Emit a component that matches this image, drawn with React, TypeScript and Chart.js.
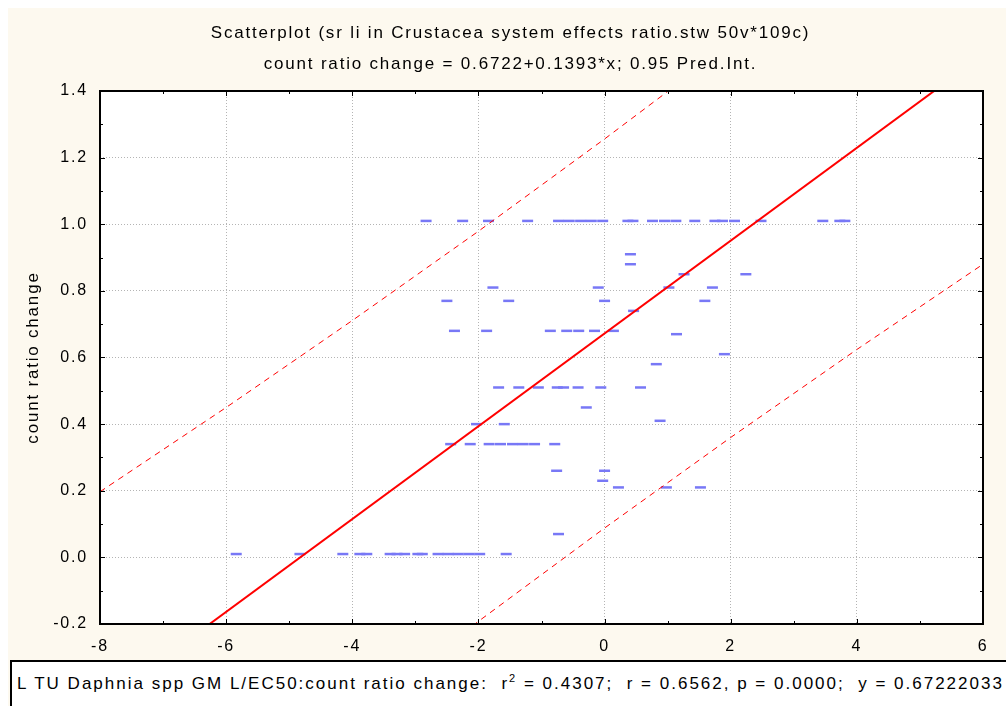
import React, { useEffect, useRef } from 'react';
import { Chart, registerables } from 'chart.js';

Chart.register(...registerables);

// ---- Text ----
const titleLines = [
  'Scatterplot (sr li in Crustacea system effects ratio.stw 50v*109c)',
  'count ratio change = 0.6722+0.1393*x; 0.95 Pred.Int.',
];
const yAxisTitle = 'count ratio change';
const legendPrefix = 'L TU Daphnia spp GM L/EC50:count ratio change:  r';
const legendSuffix = ' = 0.4307;  r = 0.6562, p = 0.0000;  y = 0.67222033 + 0.1393*x';

// ---- Axes ----
const xMin = -8;
const xMax = 6;
const xStep = 2;
const yMin = -0.2;
const yMax = 1.4;
const yStep = 0.2;

// ---- Cases (L TU Daphnia, count ratio change) ----
const caseX = [
  -2.83, -2.25, -1.84, -1.22, -0.73, -0.56, -0.38, -0.21, -0.03, 0.37, 0.45, 0.76, 0.95, 1.13, 1.43, 1.75, 1.87, 2.06, 2.48, 3.46, 3.73, 3.81,
  0.41, 0.41, 1.26, 2.24,
  -1.77, -0.1, 1.02, 1.71,
  -2.5, -1.52, 0.0, 1.59,
  0.46,
  -2.38, -1.87, -0.86, -0.6, -0.41, -0.16, 0.14,
  1.14, 1.9, 0.82,
  -1.68, -1.36, -1.05, -0.75, -0.65, -0.42, -0.06, 0.57,
  -0.29, 0.88, -2.03, -1.59,
  -2.44, -2.13, -1.83, -1.65, -1.46, -1.29, -1.11, -0.79,
  -0.76, 0.0, -0.03, 0.22, 0.98, 1.52, -0.73,
  -5.84, -4.83, -4.15, -3.88, -3.77, -3.4, -3.29, -3.17, -2.96, -2.89, -2.64, -2.48, -2.32, -2.15, -1.98, -1.56,
];
const caseY = [
  1.01, 1.01, 1.01, 1.01, 1.01, 1.01, 1.01, 1.01, 1.01, 1.01, 1.01, 1.01, 1.01, 1.01, 1.01, 1.01, 1.01, 1.01, 1.01, 1.01, 1.01, 1.01,
  0.91, 0.88, 0.85, 0.85,
  0.81, 0.81, 0.81, 0.81,
  0.77, 0.77, 0.77, 0.77,
  0.74,
  0.68, 0.68, 0.68, 0.68, 0.68, 0.68, 0.68,
  0.67, 0.61, 0.58,
  0.51, 0.51, 0.51, 0.51, 0.51, 0.51, 0.51, 0.51,
  0.45, 0.41, 0.4, 0.4,
  0.34, 0.34, 0.34, 0.34, 0.34, 0.34, 0.34, 0.34,
  0.26, 0.26, 0.23, 0.21, 0.21, 0.21, 0.07,
  0.01, 0.01, 0.01, 0.01, 0.01, 0.01, 0.01, 0.01, 0.01, 0.01, 0.01, 0.01, 0.01, 0.01, 0.01, 0.01,
];

// ---- Regression (from the title) and 0.95 prediction band ----
const fitIntercept = 0.6722;
const fitSlope = 0.1393;
const fitX = [-8, 6];
const bandX = [-8, -6, -4, -2, 0, 2, 4, 6];
const bandUpper = [0.197, 0.45, 0.711, 0.979, 1.256, 1.541, 1.835, 2.136];
const bandLower = [-1.081, -0.777, -0.481, -0.192, 0.088, 0.36, 0.624, 0.88];

const CREAM = '#fdf9ef';
const FONT = "'Liberation Sans', Arial, sans-serif";
const SPACING = '1.8px';

const framePlugin = {
  id: 'frame',
  beforeDraw(chart: any) {
    const { ctx, chartArea } = chart;
    (ctx as any).letterSpacing = SPACING;
    ctx.save();
    ctx.fillStyle = '#ffffff';
    ctx.fillRect(chartArea.left, chartArea.top, chartArea.right - chartArea.left, chartArea.bottom - chartArea.top);
    ctx.restore();
  },
  afterDraw(chart: any) {
    const { ctx, chartArea } = chart;
    const xs = chart.scales.x;
    const ys = chart.scales.y;
    const { left, right, top, bottom } = chartArea;
    ctx.save();
    ctx.strokeStyle = '#000';
    ctx.lineWidth = 1;
    ctx.beginPath();
    for (let i = 0; i <= Math.round(xMax - xMin); i++) {
      const v = xMin + i;
      const px = Math.round(xs.getPixelForValue(v)) + 0.5;
      const len = i % 2 === 0 ? 5 : 3;
      ctx.moveTo(px, bottom);
      ctx.lineTo(px, bottom - len);
      ctx.moveTo(px, top);
      ctx.lineTo(px, top + len);
    }
    for (let i = 0; i <= Math.round((yMax - yMin) * 10); i++) {
      const v = yMin + i * 0.1;
      const py = Math.round(ys.getPixelForValue(v)) + 0.5;
      const len = i % 2 === 0 ? 5 : 3;
      ctx.moveTo(left, py);
      ctx.lineTo(left + len, py);
      ctx.moveTo(right, py);
      ctx.lineTo(right - len, py);
    }
    ctx.stroke();
    ctx.lineWidth = 2;
    ctx.strokeRect(Math.round(left), Math.round(top), Math.round(right - left), Math.round(bottom - top));
    ctx.restore();
  },
};

export default function App() {
  const canvasRef = useRef<HTMLCanvasElement>(null);

  useEffect(() => {
    const canvas = canvasRef.current;
    if (!canvas) return;
    Chart.defaults.color = '#000';

    const points = caseX.map((x, i) => ({ x, y: caseY[i] }));
    const fitLine = fitX.map((x) => ({ x, y: fitIntercept + fitSlope * x }));
    const upper = bandX.map((x, i) => ({ x, y: bandUpper[i] }));
    const lower = bandX.map((x, i) => ({ x, y: bandLower[i] }));

    const chart = new Chart(canvas, {
      type: 'scatter',
      data: {
        datasets: [
          {
            label: 'fit',
            data: fitLine,
            showLine: true,
            borderColor: '#ff0000',
            borderWidth: 2,
            pointRadius: 0,
            order: 0,
          },
          {
            label: 'upper',
            data: upper,
            showLine: true,
            borderColor: '#ff0000',
            borderWidth: 1,
            borderDash: [6, 5],
            pointRadius: 0,
            order: 0,
          },
          {
            label: 'lower',
            data: lower,
            showLine: true,
            borderColor: '#ff0000',
            borderWidth: 1,
            borderDash: [6, 5],
            pointRadius: 0,
            order: 0,
          },
          {
            label: 'cases',
            data: points,
            pointStyle: 'line',
            pointRadius: 5.5,
            pointBorderWidth: 2.5,
            pointBorderColor: '#7878f6',
            pointBackgroundColor: '#7878f6',
            order: 1,
          },
        ],
      } as any,
      options: {
        animation: false,
        responsive: false,
        devicePixelRatio: 1,
        events: [],
        layout: { padding: { left: 7, right: 0, top: 0, bottom: 41 } },
        plugins: {
          legend: { display: false },
          tooltip: { enabled: false },
          title: {
            display: true,
            text: titleLines,
            color: '#000',
            font: { family: FONT, size: 17, weight: 'normal', lineHeight: 31 / 17 },
            padding: { top: 10, bottom: 11 },
          },
        },
        scales: {
          x: {
            type: 'linear',
            min: xMin,
            max: xMax,
            afterFit(scale: any) {
              scale.height = 41;
            },
            ticks: {
              stepSize: xStep,
              padding: 13,
              autoSkip: false,
              maxRotation: 0,
              color: '#000',
              font: { family: FONT, size: 16 },
              callback: (v: any) => String(Math.round(Number(v))),
            },
            grid: { color: '#b4b4b4', lineWidth: 1, drawTicks: false },
            border: { display: false, dash: [1, 2] },
          },
          y: {
            type: 'linear',
            min: yMin,
            max: yMax,
            afterFit(scale: any) {
              scale.width = 85;
            },
            ticks: {
              stepSize: yStep,
              padding: 12,
              autoSkip: false,
              color: '#000',
              font: { family: FONT, size: 16 },
              callback: (v: any) => {
                const n = Number(v);
                return Math.abs(n) < 1e-9 ? '0.0' : n.toFixed(1);
              },
            },
            grid: { color: '#b4b4b4', lineWidth: 1, drawTicks: false },
            border: { display: false, dash: [1, 2] },
            title: {
              display: true,
              text: yAxisTitle,
              color: '#000',
              font: { family: FONT, size: 17 },
              padding: { top: 8, bottom: 0 },
            },
          },
          yRight: {
            type: 'linear',
            position: 'right',
            min: yMin,
            max: yMax,
            afterFit(scale: any) {
              scale.width = 23;
            },
            ticks: { display: false },
            grid: { display: false, drawTicks: false },
            border: { display: false },
          },
        },
      } as any,
      plugins: [framePlugin],
    });

    return () => {
      chart.destroy();
    };
  }, []);

  return (
    <div
      style={{
        position: 'fixed',
        left: 8,
        top: 8,
        width: 998,
        height: 698,
        background: CREAM,
        overflow: 'hidden',
      }}
    >
      <canvas ref={canvasRef} width={998} height={698} style={{ display: 'block', width: 998, height: 698 }} />
      <div
        style={{
          position: 'absolute',
          left: 2,
          top: 652,
          width: 1020,
          height: 60,
          boxSizing: 'border-box',
          background: '#ffffff',
          borderTop: '2px solid #000',
          borderLeft: '2px solid #000',
          padding: '12px 0 0 5px',
          fontFamily: FONT,
          fontSize: 17,
          lineHeight: '20px',
          letterSpacing: '2px',
          whiteSpace: 'pre',
          color: '#000',
        }}
      >
        {legendPrefix}
        <sup style={{ fontSize: 11, lineHeight: 0 }}>2</sup>
        {legendSuffix}
      </div>
    </div>
  );
}
